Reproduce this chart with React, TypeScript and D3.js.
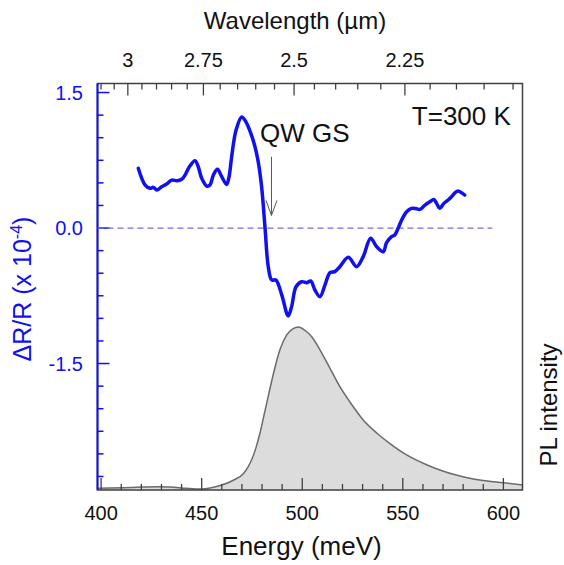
import { useEffect, useRef } from 'react';
import * as d3 from 'd3';

// ΔR/R spectrum (x 10^-4)
const drEnergy = [418.5, 421.9, 424.3, 426, 427.7, 430.1, 432.6, 435.1, 437.6, 440.1, 441.7, 443.9, 446.7, 448.3, 450, 452.5, 454.1, 455.8, 457.8, 460, 462.4, 463.6, 464.9, 467.1, 469.9, 472, 474.4, 476.5, 478.1, 479.8, 481.5, 483.1, 484.8, 486.9, 489.8, 493, 494.7, 496.9, 499.7, 502.2, 504.2, 506.3, 508.8, 511.3, 513.8, 516.2, 518.7, 522.9, 527, 530.3, 534, 537, 540.3, 541.9, 544.4, 546, 547.7, 549.4, 551.9, 554.3, 556.8, 558.5, 561, 563.4, 565.4, 566.8, 568.4, 570.4, 572.5, 574.2, 575.9, 577.5, 579.2, 580.8];
const drValue = [0.66, 0.476, 0.44, 0.45, 0.42, 0.457, 0.487, 0.53, 0.523, 0.54, 0.586, 0.678, 0.744, 0.678, 0.55, 0.465, 0.476, 0.586, 0.65, 0.567, 0.483, 0.567, 0.79, 1.084, 1.23, 1.176, 1.05, 0.9, 0.733, 0.457, 0.0, -0.428, -0.575, -0.575, -0.74, -0.973, -0.87, -0.65, -0.594, -0.605, -0.586, -0.686, -0.76, -0.63, -0.494, -0.483, -0.428, -0.324, -0.428, -0.317, -0.114, -0.207, -0.262, -0.162, -0.096, -0.077, 0, 0.088, 0.18, 0.218, 0.214, 0.207, 0.254, 0.29, 0.317, 0.273, 0.218, 0.273, 0.31, 0.346, 0.39, 0.41, 0.39, 0.365];

// PL intensity (normalised)
const plEnergy = [398.2, 411, 420, 427.7, 434.3, 442.6, 450, 458.3, 465.7, 470.7, 473, 475, 477, 479, 481, 483, 485.6, 488.9, 492.2, 495.5, 498, 501.3, 504.7, 508.8, 513.8, 518.7, 523.7, 530.3, 537, 543.6, 551.9, 561.8, 568.4, 577, 585, 592, 599.9, 609.5];
const plValue = [0.01, 0.014, 0.018, 0.02, 0.018, 0.01, 0.006, 0.025, 0.06, 0.1, 0.14, 0.19, 0.26, 0.35, 0.46, 0.57, 0.71, 0.86, 0.95, 0.99, 1.0, 0.98, 0.94, 0.86, 0.746, 0.634, 0.54, 0.43, 0.35, 0.285, 0.215, 0.155, 0.123, 0.09, 0.068, 0.055, 0.045, 0.03];

// axis ticks
const energyMajor = [400, 450, 500, 550, 600];
const energyMinor = d3.range(400, 610, 10);
const drMajor = [1.5, 0, -1.5];
const drMinor = d3.range(-2.75, 1.6, 0.25);
const waveMajor = [3, 2.75, 2.5, 2.25];
const waveMinor = d3.range(2.05, 3.11, 0.05);
const HC = 1239.84; // meV·µm

const W = 564;
const H = 565;
const FONT = "Arial, 'Liberation Sans', sans-serif";
const BLUE = '#1010f0';

export default function App() {
  const svgRef = useRef<SVGSVGElement>(null);

  useEffect(() => {
    const svg = d3.select(svgRef.current);
    svg.selectAll('*').remove();

    const left = 97.5, right = 522.5, top = 83.5, bottom = 490;
    const x = d3.scaleLinear().domain([398.2, 609.5]).range([left, right]);
    const y = d3.scaleLinear().domain([-2.9, 1.6]).range([bottom, top]);
    const yPL = d3.scaleLinear().domain([0, 1]).range([bottom, 327]);

    // PL filled curve
    const plData = plEnergy.map((e, i) => [e, plValue[i]] as [number, number]);
    svg.append('path')
      .datum(plData)
      .attr('fill', '#dcdcdc')
      .attr('stroke', 'none')
      .attr('d', d3.area<[number, number]>()
        .x(d => x(d[0])).y0(bottom).y1(d => yPL(d[1]))
        .curve(d3.curveMonotoneX));
    svg.append('path')
      .datum(plData)
      .attr('fill', 'none')
      .attr('stroke', '#6b6b6b')
      .attr('stroke-width', 1.5)
      .attr('d', d3.line<[number, number]>()
        .x(d => x(d[0])).y(d => yPL(d[1]))
        .curve(d3.curveMonotoneX));

    // frame
    svg.append('rect')
      .attr('x', left).attr('y', top)
      .attr('width', right - left).attr('height', bottom - top)
      .attr('fill', 'none').attr('stroke', '#404040').attr('stroke-width', 1.5);

    // bottom ticks
    const g = svg.append('g').attr('stroke', '#404040').attr('stroke-width', 1.3);
    energyMinor.forEach(e => {
      const major = energyMajor.includes(e);
      g.append('line').attr('x1', x(e)).attr('x2', x(e))
        .attr('y1', bottom).attr('y2', bottom - (major ? 12 : 6));
    });
    // top ticks (wavelength)
    waveMinor.forEach(w => {
      const wr = Math.round(w * 100) / 100;
      const major = waveMajor.includes(wr);
      const e = HC / wr;
      if (x(e) < left || x(e) > right) return;
      g.append('line').attr('x1', x(e)).attr('x2', x(e))
        .attr('y1', top).attr('y2', top + (major ? 12 : 6));
    });

    // left axis in blue
    svg.append('line').attr('x1', left).attr('x2', left).attr('y1', top).attr('y2', bottom)
      .attr('stroke', BLUE).attr('stroke-width', 2);
    drMinor.forEach(v => {
      const vr = Math.round(v * 100) / 100;
      const major = drMajor.includes(vr);
      svg.append('line').attr('x1', left).attr('x2', left + (major ? 12 : 6))
        .attr('y1', y(vr)).attr('y2', y(vr))
        .attr('stroke', BLUE).attr('stroke-width', 1.5);
    });

    // tick labels
    energyMajor.forEach(e => {
      svg.append('text').attr('x', x(e)).attr('y', 520)
        .attr('text-anchor', 'middle').attr('font-size', 20).attr('font-family', FONT)
        .attr('fill', '#111').text(e);
    });
    waveMajor.forEach(w => {
      svg.append('text').attr('x', x(HC / w)).attr('y', 67)
        .attr('text-anchor', 'middle').attr('font-size', 20).attr('font-family', FONT)
        .attr('fill', '#111').text(String(w));
    });
    drMajor.forEach(v => {
      svg.append('text').attr('x', 83).attr('y', y(v) + 7)
        .attr('text-anchor', 'end').attr('font-size', 20).attr('font-family', FONT)
        .attr('fill', BLUE).text(v.toFixed(1));
    });

    // zero line
    svg.append('line').attr('x1', x(398.2)).attr('x2', x(594.5))
      .attr('y1', y(0)).attr('y2', y(0))
      .attr('stroke', '#6e6ee8').attr('stroke-width', 1.3).attr('stroke-dasharray', '6,4');

    // ΔR/R curve
    const drData = drEnergy.map((e, i) => [e, drValue[i]] as [number, number]);
    svg.append('path')
      .datum(drData)
      .attr('fill', 'none')
      .attr('stroke', BLUE)
      .attr('stroke-width', 3.5)
      .attr('stroke-linejoin', 'round')
      .attr('stroke-linecap', 'round')
      .attr('d', d3.line<[number, number]>()
        .x(d => x(d[0])).y(d => y(d[1]))
        .curve(d3.curveCatmullRom));

    // QW GS arrow
    const ax = x(484.7), ay1 = y(0.79), ay2 = y(0.14);
    svg.append('line').attr('x1', ax).attr('x2', ax).attr('y1', ay1).attr('y2', ay2)
      .attr('stroke', '#555').attr('stroke-width', 1);
    svg.append('path')
      .attr('d', `M${ax - 5.5},${ay2 - 15}L${ax},${ay2}L${ax + 5.5},${ay2 - 15}`)
      .attr('fill', 'none').attr('stroke', '#555').attr('stroke-width', 1);

    // annotations
    svg.append('text').attr('x', x(479)).attr('y', y(0.955))
      .attr('font-size', 26).attr('font-family', FONT).attr('fill', '#111').text('QW GS');
    svg.append('text').attr('x', x(603.7)).attr('y', y(1.14))
      .attr('text-anchor', 'end')
      .attr('font-size', 26).attr('font-family', FONT).attr('fill', '#111').text('T=300 K');

    // axis titles
    svg.append('text').attr('x', 295).attr('y', 29)
      .attr('text-anchor', 'middle').attr('font-size', 24).attr('font-family', FONT)
      .attr('fill', '#111').text('Wavelength (µm)');
    svg.append('text').attr('x', 301.5).attr('y', 555)
      .attr('text-anchor', 'middle').attr('font-size', 26).attr('font-family', FONT)
      .attr('fill', '#111').text('Energy (meV)');

    const yl = svg.append('text')
      .attr('transform', `translate(31,289) rotate(-90)`)
      .attr('text-anchor', 'middle').attr('font-size', 25).attr('font-family', FONT)
      .attr('fill', BLUE);
    yl.append('tspan').text('ΔR/R (x 10');
    yl.append('tspan').attr('font-size', 16).attr('dy', -9).text('-4');
    yl.append('tspan').attr('dy', 9).text(')');

    svg.append('text')
      .attr('transform', `translate(557,405) rotate(-90)`)
      .attr('text-anchor', 'middle').attr('font-size', 24).attr('font-family', FONT)
      .attr('fill', '#111').text('PL intensity');
  }, []);

  return (
    <svg ref={svgRef} width={W} height={H}
      style={{ position: 'absolute', left: 0, top: 0, background: '#fff' }} />
  );
}
